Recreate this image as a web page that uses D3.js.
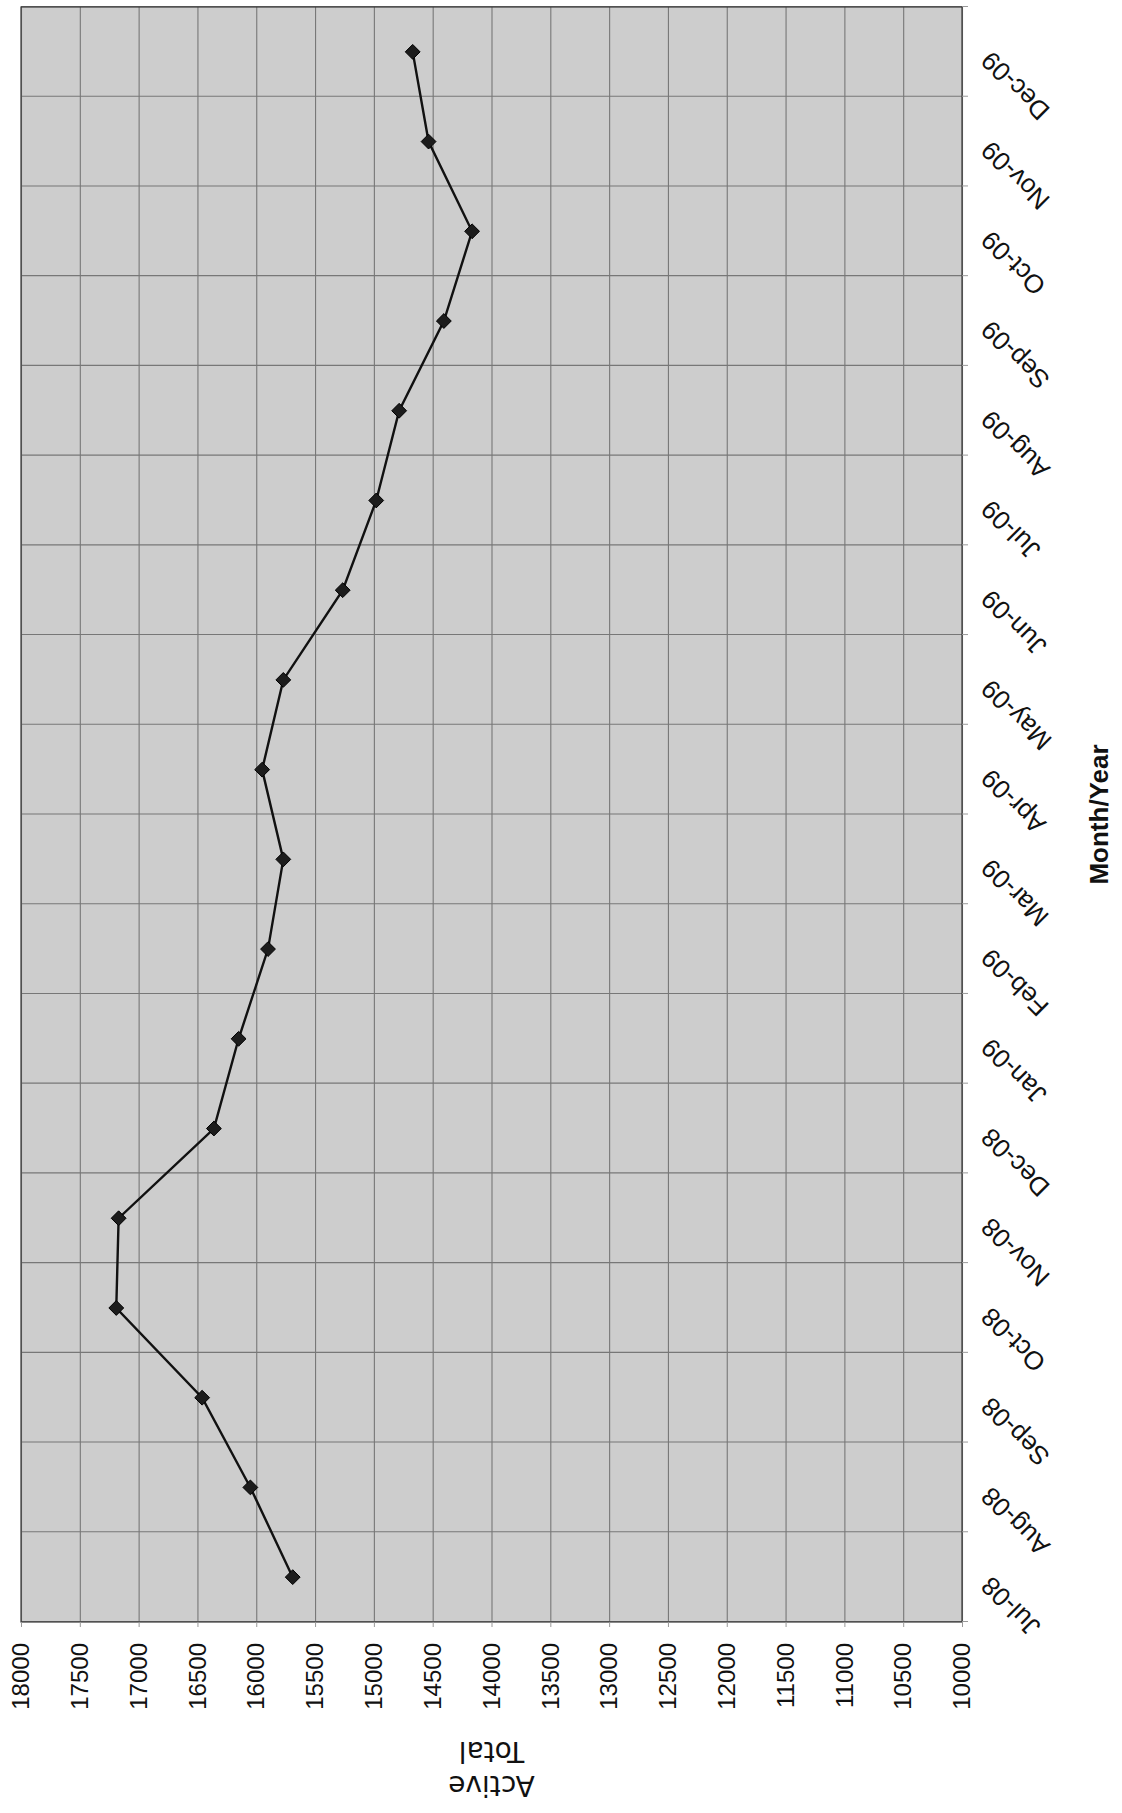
<!DOCTYPE html>
<html>
<head>
<meta charset="utf-8">
<script src="https://cdn.jsdelivr.net/npm/d3@7"></script>
<style>
body { margin: 0; background: #fff; }
svg { display: block; }
text { font-family: "Liberation Sans", Arial, sans-serif; fill: #111; }
</style>
</head>
<body>
<svg id="chart"></svg>
<script>
const months = ['Jul-08', 'Aug-08', 'Sep-08', 'Oct-08', 'Nov-08', 'Dec-08', 'Jan-09', 'Feb-09', 'Mar-09',
    'Apr-09', 'May-09', 'Jun-09', 'Jul-09', 'Aug-09', 'Sep-09', 'Oct-09', 'Nov-09', 'Dec-09']
const activeTotal = [15690, 16050, 16460, 17190, 17170, 16360, 16150, 15900, 15770,
    15950, 15770, 15265, 14980, 14785, 14405, 14165, 14535, 14670]
const valueTicks = d3.range(10000, 18001, 500)

const W = 1122, H = 1813

// the scan is the chart turned a quarter left, so draw it upright and rotate the group
const plot = { left: 191, right: 1806, top: 21, bottom: 962 }

const svg = d3.select('#chart')
    .attr('width', W)
    .attr('height', H)

svg.append('rect')
    .attr('width', W)
    .attr('height', H)
    .attr('fill', '#fff')

const g = svg.append('g')
    .attr('transform', `translate(0,${H}) rotate(-90)`)

const x = d3.scaleBand()
    .domain(months)
    .range([plot.left, plot.right])

// category boundaries (Excel puts ticks between categories)
const xb = d3.scaleLinear()
    .domain([0, months.length])
    .range([plot.left, plot.right])

const y = d3.scaleLinear()
    .domain([10000, 18000])
    .range([plot.bottom, plot.top])

g.append('rect')
    .attr('x', plot.left)
    .attr('y', plot.top)
    .attr('width', plot.right - plot.left)
    .attr('height', plot.bottom - plot.top)
    .attr('fill', '#cdcdcd')

// value gridlines
g.append('g')
    .attr('transform', `translate(${plot.left},0)`)
    .call(d3.axisLeft(y).tickValues(valueTicks).tickSize(-(plot.right - plot.left)).tickFormat(''))
    .call(a => a.select('.domain').remove())
    .call(a => a.selectAll('line').attr('stroke', '#777').attr('stroke-width', 1.1))

// category gridlines
g.append('g')
    .attr('transform', `translate(0,${plot.bottom})`)
    .call(d3.axisBottom(xb).tickValues(d3.range(0, months.length + 1)).tickSize(-(plot.bottom - plot.top)).tickFormat(''))
    .call(a => a.select('.domain').remove())
    .call(a => a.selectAll('line').attr('stroke', '#777').attr('stroke-width', 1.1))

g.append('rect')
    .attr('x', plot.left)
    .attr('y', plot.top)
    .attr('width', plot.right - plot.left)
    .attr('height', plot.bottom - plot.top)
    .attr('fill', 'none')
    .attr('stroke', '#3a3a3a')
    .attr('stroke-width', 1.2)

// value axis: ticks + labels
g.append('g')
    .attr('transform', `translate(${plot.left},0)`)
    .call(d3.axisLeft(y).tickValues(valueTicks).tickSize(5).tickPadding(16).tickFormat(d3.format('d')))
    .call(a => a.select('.domain').remove())
    .call(a => a.selectAll('line').attr('stroke', '#999'))
    .call(a => a.selectAll('text').attr('font-size', 24))

// category axis: ticks at boundaries
g.append('g')
    .attr('transform', `translate(0,${plot.bottom})`)
    .call(d3.axisBottom(xb).tickValues(d3.range(0, months.length + 1)).tickSize(6).tickFormat(''))
    .call(a => a.select('.domain').remove())
    .call(a => a.selectAll('line').attr('stroke', '#999'))

// category labels, slanted
g.append('g')
    .selectAll('text')
    .data(months)
    .join('text')
    .attr('transform', d => `translate(${x(d) + x.bandwidth() / 2 + 2},${plot.bottom + 30}) rotate(-45)`)
    .attr('text-anchor', 'end')
    .attr('font-size', 26)
    .text(d => d)

// axis titles
const ttl = g.append('text')
    .attr('transform', `translate(${plot.left / 2 - 58},${(plot.top + plot.bottom) / 2}) rotate(-90)`)
    .attr('text-anchor', 'middle')
    .style('font-family', '"DejaVu Sans", sans-serif')
    .attr('font-size', 28)
ttl.append('tspan').attr('x', 0).attr('dy', 0).text('Active')
ttl.append('tspan').attr('x', 0).attr('dy', 34).text('Total')

g.append('text')
    .attr('x', (plot.left + plot.right) / 2)
    .attr('y', plot.bottom + 146)
    .attr('text-anchor', 'middle')
    .attr('font-size', 26)
    .attr('font-weight', 'bold')
    .text('Month/Year')

// series
g.append('path')
    .datum(activeTotal)
    .attr('fill', 'none')
    .attr('stroke', '#111')
    .attr('stroke-width', 2.4)
    .attr('d', d3.line()
        .x((d, i) => x(months[i]) + x.bandwidth() / 2)
        .y(d => y(d)))

g.append('g')
    .selectAll('path')
    .data(activeTotal)
    .join('path')
    .attr('transform', (d, i) => `translate(${x(months[i]) + x.bandwidth() / 2},${y(d)})`)
    .attr('d', d3.symbol(d3.symbolDiamond2, 140))
    .attr('fill', '#1c1c1c')
    .attr('stroke', '#000')
    .attr('stroke-width', 1)
</script>
</body>
</html>
